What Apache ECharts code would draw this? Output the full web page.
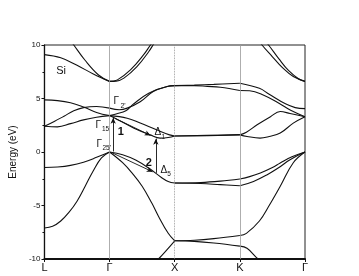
<!DOCTYPE html>
<html><head><meta charset="utf-8">
<script src="https://cdn.jsdelivr.net/npm/echarts@6/dist/echarts.min.js"></script>
<style>html,body{margin:0;padding:0;background:#fff}#c{width:359px;height:276px}</style>
</head><body><div id="c"></div>
<script>
// k-path: L=0, Γ=1, X=2, K=3, Γ=4
const kLabels = ['L', 'Γ', 'X', 'K', 'Γ'];
const yTicks = [-10, -5, 0, 5, 10];

// ---- L -> Γ (k from 0 to 1) ----
const LG_v1 = [[0,-7.1],[0.125,-6.95],[0.25,-6.45],[0.375,-5.65],[0.5,-4.6],[0.625,-3.2],[0.75,-1.75],[0.875,-0.55],[1,0]];
const LG_v2 = [[0,-1.45],[0.2,-1.4],[0.4,-1.25],[0.6,-0.95],[0.8,-0.5],[1,0]];
const LG_c1 = [[0,2.4],[0.2,2.35],[0.4,2.65],[0.6,3.0],[0.8,3.25],[1,3.4]];
const LG_c2 = [[0,2.4],[0.15,2.85],[0.3,3.35],[0.45,3.85],[0.6,4.15],[0.8,4.25],[1,4.1]];
const LG_c3 = [[0,4.87],[0.2,4.8],[0.4,4.6],[0.6,4.2],[0.8,3.7],[1,3.4]];
const LG_c4 = [[0,9.1],[0.25,8.8],[0.5,8.1],[0.75,7.3],[1,6.6]];
const LG_c5 = [[0.2,12.1],[0.45,10.0],[0.62,8.6],[0.83,7.2],[1,6.6]];

// ---- Γ -> X (k from 1 to 2) ----
const GX_v1 = [[1,0],[1.2,-0.25],[1.4,-0.75],[1.6,-1.5],[1.8,-2.4],[1.9,-2.75],[2,-2.9]];
const GX_v2 = [[1,0],[1.2,-1.0],[1.35,-2.0],[1.5,-3.2],[1.65,-4.8],[1.75,-6.0],[1.9,-7.6],[2,-8.3]];
const GX_v3 = [[1.5,-11.5],[1.75,-10.0],[2,-8.3]];
const GX_c1 = [[1,3.4],[1.07,3.2],[1.375,2.23],[1.625,1.6],[1.775,1.3],[1.9,1.35],[2,1.5]];
const GX_c2 = [[1,3.4],[1.27,3.16],[1.47,2.7],[1.72,2.07],[1.92,1.6],[2,1.5]];
const GX_c3 = [[1,4.1],[1.15,3.95],[1.27,4.1],[1.47,4.7],[1.67,5.65],[1.87,6.1],[2,6.2]];
const GX_c4 = [[1,3.4],[1.1,3.56],[1.25,3.85],[1.35,4.4],[1.6,5.5],[1.9,6.15],[2,6.2]];
const GX_c5 = [[1,6.6],[1.12,6.74],[1.32,7.67],[1.52,9.07],[1.64,10.1],[1.75,10.9]];
const GX_c6 = [[1,6.6],[1.1,6.62],[1.22,6.9],[1.42,7.98],[1.6,9.37],[1.7,10.3],[1.8,11.0]];

// ---- X -> K (k from 2 to 3) ----
const XK_v1 = [[2,-8.3],[2.3,-8.25],[2.6,-8.1],[3,-7.8]];
const XK_v2 = [[2,-8.3],[2.3,-8.35],[2.6,-8.5],[3,-8.8]];
const XK_v3 = [[2,-2.9],[2.4,-2.85],[2.7,-2.72],[3,-2.52]];
const XK_v4 = [[2,-2.9],[2.4,-2.95],[2.7,-3.05],[3,-3.15]];
const XK_c1 = [[2,1.5],[2.5,1.53],[3,1.6]];
const XK_c2 = [[2,1.5],[2.5,1.55],[3,1.62]];
const XK_c3 = [[2,6.2],[2.3,6.25],[2.6,6.32],[3,6.43]];
const XK_c4 = [[2,6.2],[2.3,6.2],[2.5,6.13],[2.7,6.05],[3,5.75]];

// ---- K -> Γ (k from 3 to 4) ----
const KG_v1 = [[3,-7.8],[3.1,-7.6],[3.3,-6.45],[3.45,-5.0],[3.62,-3.2],[3.82,-1.0],[4,0]];
const KG_v2 = [[3,-8.8],[3.11,-9.0],[3.28,-10.0],[3.6,-11.5]];
const KG_v3 = [[3,-2.52],[3.15,-2.3],[3.315,-1.96],[3.5,-1.45],[3.62,-1.03],[3.8,-0.45],[4,0]];
const KG_v4 = [[3,-3.15],[3.21,-2.75],[3.42,-2.12],[3.6,-1.45],[3.77,-0.72],[4,0]];
const KG_c1 = [[3,1.6],[3.1,1.85],[3.265,2.54],[3.47,3.3],[3.62,3.78],[3.77,3.6],[4,3.3]];
const KG_c2 = [[3,1.6],[3.11,1.45],[3.31,1.3],[3.45,1.45],[3.62,1.77],[3.82,2.7],[4,3.3]];
const KG_c3 = [[3,6.43],[3.3,5.95],[3.45,5.4],[3.7,4.5],[3.85,4.15],[4,4.05]];
const KG_c4 = [[3,5.75],[3.15,5.72],[3.35,5.35],[3.6,4.56],[3.78,3.9],[4,3.3]];
const KG_c5 = [[3.2,11.2],[3.34,10.0],[3.5,8.9],[3.65,7.9],[3.82,7.05],[4,6.6]];
const KG_c6 = [[3.3,11.0],[3.44,10.0],[3.6,8.7],[3.75,7.6],[3.9,6.85],[4,6.6]];

const bands = [LG_v1,LG_v2,LG_c1,LG_c2,LG_c3,LG_c4,LG_c5,
  GX_v1,GX_v2,GX_v3,GX_c1,GX_c2,GX_c3,GX_c4,GX_c5,GX_c6,
  XK_v1,XK_v2,XK_v3,XK_v4,XK_c1,XK_c2,XK_c3,XK_c4,
  KG_v1,KG_v2,KG_v3,KG_v4,KG_c1,KG_c2,KG_c3,KG_c4,KG_c5,KG_c6];

// annotation arrows [[k1,E1],[k2,E2]]
const arrows = [
  [[1.055,0.05],[1.055,3.2]],
  [[1.08,3.15],[1.63,1.55]],
  [[1.71,-1.95],[1.71,1.25]],
  [[1.03,-0.05],[1.66,-1.85]]
];
// annotation texts [k, E, text, size, bold]
const texts = [
  [0.18,7.57,'Si',11,false],
  [1.06,4.7,'Γ',10,false],[1.166,4.3,"2'",7,false],
  [0.785,2.54,'Γ',10,false],[0.883,2.15,'15',6.5,false],
  [0.8,0.77,'Γ',10,false],[0.89,0.38,"25'",6.5,false],
  [1.125,1.84,'1',11,true],
  [1.69,1.8,'Δ',10,false],[1.796,1.4,'1',6.5,false],
  [1.555,-1.0,'2',11,true],
  [1.78,-1.75,'Δ',10,false],[1.887,-2.12,'5',6.5,false]
];

const FONT = 'Liberation Sans, Arial, sans-serif';
const series = bands.map(b => ({
  type:'line', data:b, smooth:0.4, symbol:'none', clip:true,
  lineStyle:{color:'#111', width:1.1}, silent:true, animation:false
}));
series.push({
  type:'line', data:[], symbol:'none', animation:false, silent:true,
  markLine:{
    silent:true, animation:false, symbol:['none','none'],
    label:{show:false},
    lineStyle:{color:'#999', width:0.8, type:'solid'},
    data:[
      {xAxis:1},
      {xAxis:2, lineStyle:{type:'dotted', color:'#888'}},
      {xAxis:3}
    ].concat(arrows.map(a => [
      {coord:a[0], symbol:'none', lineStyle:{color:'#111', width:0.9, type:'solid'}},
      {coord:a[1], symbol:'arrow', symbolSize:[4,6]}
    ]))
  },
  markPoint:{
    silent:true, animation:false, symbol:'circle', symbolSize:0,
    data: texts.map(t => ({
      coord:[t[0], t[1]],
      label:{show:true, position:'right', distance:0, formatter:t[2],
        fontSize:t[3], fontWeight:t[4]?'bold':'normal', color:'#111', fontFamily:FONT}
    }))
  }
});

const chart = echarts.init(document.getElementById('c'), null, {renderer:'canvas'});
chart.setOption({
  animation:false,
  grid:{left:40, right:54, top:45, bottom:17, show:true, borderColor:'#222', borderWidth:1, backgroundColor:'transparent'},
  xAxis:{
    type:'value', min:0, max:4, interval:1,
    axisLine:{onZero:false, lineStyle:{color:'#111', width:2}},
    axisTick:{show:true, length:3, inside:false, lineStyle:{color:'#111'}},
    axisLabel:{formatter:v => kLabels[Math.round(v)] || '', fontSize:11, color:'#111', margin:3, fontFamily:FONT},
    splitLine:{show:false}
  },
  yAxis:{
    type:'value', min:yTicks[0], max:yTicks[yTicks.length-1], interval:5,
    name:'Energy (eV)', nameLocation:'middle', nameGap:22,
    nameTextStyle:{fontSize:10, color:'#111', fontFamily:FONT},
    axisLine:{onZero:false, lineStyle:{color:'#111', width:1.3}},
    axisTick:{show:true, length:3, lineStyle:{color:'#111'}},
    minorTick:{show:true, splitNumber:2, length:2, lineStyle:{color:'#111'}},
    axisLabel:{fontSize:8, color:'#111', margin:4, fontFamily:FONT},
    splitLine:{show:false}
  },
  series:series
});
</script></body></html>
